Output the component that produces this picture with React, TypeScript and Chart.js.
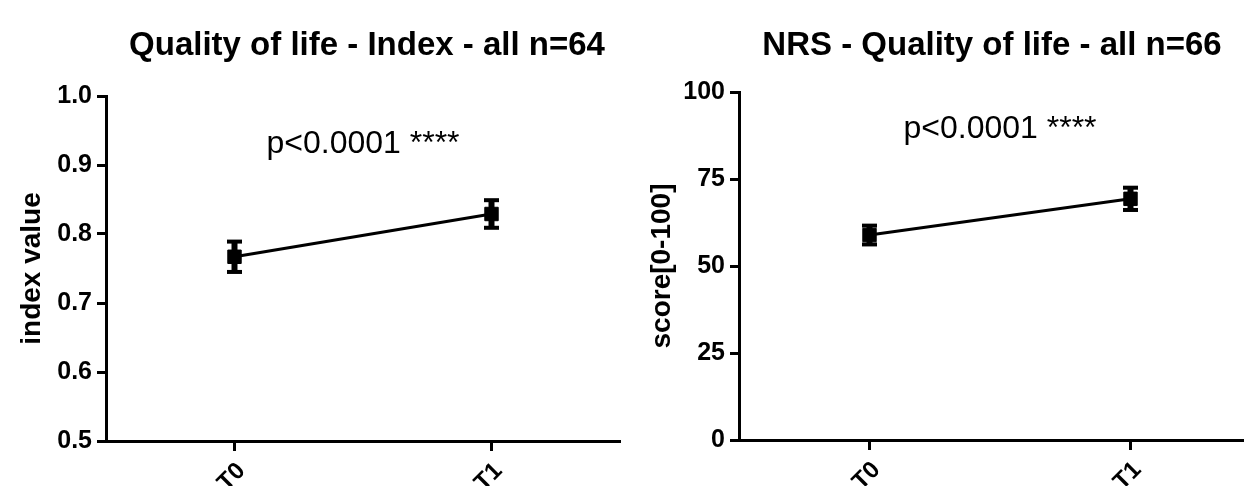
import React, { useEffect, useRef } from "react";
import { Chart, registerables } from "chart.js";

Chart.register(...registerables);

// ---- data ----
const categories = ["T0", "T1"];
const indexMeans = [0.767, 0.829];
const indexErrors = [0.022, 0.02];
const nrsMeans = [58.9, 69.3];
const nrsErrors = [2.7, 3.2];
const indexTicks = [0.5, 0.6, 0.7, 0.8, 0.9, 1.0];
const nrsTicks = [0, 25, 50, 75, 100];
const titles = ["Quality of life - Index - all n=64", "NRS - Quality of life - all n=66"];
const yTitles = ["index value", "score[0-100]"];
const pTexts = ["p<0.0001 ****", "p<0.0001 ****"];
const pValueY = [0.917, 86.8];

const FONT = "'Liberation Sans', Arial, Helvetica, sans-serif";

type PanelProps = {
  left: number;
  width: number;
  height: number;
  means: number[];
  errors: number[];
  ticks: number[];
  decimals: number;
  title: string;
  yTitle: string;
  pText: string;
  pY: number;
  padTop: number;
  padRight: number;
  yWidth: number;
  xHeight: number;
  yTitlePad: number;
  titleShift: number;
};

function makeTextPlugin(p: PanelProps) {
  return {
    id: "panelTexts",
    afterDraw(chart: any) {
      const { ctx, chartArea } = chart;
      const cx = (chartArea.left + chartArea.right) / 2;
      ctx.save();
      ctx.fillStyle = "#000";
      ctx.textAlign = "center";
      ctx.textBaseline = "alphabetic";
      ctx.font = `bold 33px ${FONT}`;
      ctx.fillText(p.title, cx + p.titleShift, 55);
      ctx.font = `32px ${FONT}`;
      ctx.fillText(p.pText, cx, chart.scales.y.getPixelForValue(p.pY));
      ctx.restore();
    },
  };
}

function makeErrorPlugin(p: PanelProps) {
  return {
    id: "errorBars",
    afterDatasetsDraw(chart: any) {
      const { ctx } = chart;
      const meta = chart.getDatasetMeta(0);
      const yScale = chart.scales.y;
      ctx.save();
      ctx.fillStyle = "#000";
      ctx.strokeStyle = "#000";
      meta.data.forEach((pt: any, i: number) => {
        const x = pt.x;
        const yHi = yScale.getPixelForValue(p.means[i] + p.errors[i]);
        const yLo = yScale.getPixelForValue(p.means[i] - p.errors[i]);
        ctx.lineWidth = 6;
        ctx.beginPath();
        ctx.moveTo(x, yHi);
        ctx.lineTo(x, yLo);
        ctx.stroke();
        const capW = 15;
        const capH = 4;
        ctx.fillRect(x - capW / 2, yHi - capH / 2, capW, capH);
        ctx.fillRect(x - capW / 2, yLo - capH / 2, capW, capH);
      });
      ctx.restore();
    },
  };
}

function Panel(p: PanelProps) {
  const ref = useRef<HTMLCanvasElement | null>(null);
  useEffect(() => {
    if (!ref.current) return;
    const chart = new Chart(ref.current, {
      type: "line",
      data: {
        labels: categories,
        datasets: [
          {
            data: p.means,
            borderColor: "#000",
            backgroundColor: "#000",
            borderWidth: 3,
            pointStyle: "rect",
            pointRadius: 9.5,
            pointBorderWidth: 1,
            pointBackgroundColor: "#000",
            pointBorderColor: "#000",
            tension: 0,
          },
        ],
      },
      options: {
        animation: false,
        responsive: false,
        maintainAspectRatio: false,
        events: [],
        layout: { padding: { top: p.padTop, right: p.padRight, bottom: 0, left: 0 } },
        plugins: {
          legend: { display: false },
          title: { display: false },
          tooltip: { enabled: false },
        },
        scales: {
          x: {
            type: "category",
            offset: true,
            grid: {
              display: true,
              drawOnChartArea: false,
              drawTicks: true,
              tickLength: 10,
              tickWidth: 3,
              tickColor: "#000",
              offset: false,
            },
            border: { display: true, color: "#000", width: 3 },
            ticks: {
              color: "#000",
              font: { family: FONT, size: 24, weight: "bold" },
              minRotation: 45,
              maxRotation: 45,
              padding: 6,
              labelOffset: 7,
              autoSkip: false,
            },
            afterFit(scale: any) {
              scale.height = p.xHeight;
            },
          },
          y: {
            type: "linear",
            min: p.ticks[0],
            max: p.ticks[p.ticks.length - 1],
            grid: {
              display: true,
              drawOnChartArea: false,
              drawTicks: true,
              tickLength: 9,
              tickWidth: 3,
              tickColor: "#000",
            },
            border: { display: true, color: "#000", width: 3 },
            ticks: {
              color: "#000",
              font: { family: FONT, size: 25, weight: "bold" },
              padding: 5,
              callback: (v: any) => Number(v).toFixed(p.decimals),
            },
            afterBuildTicks(scale: any) {
              scale.ticks = p.ticks.map((v) => ({ value: v }));
            },
            title: {
              display: true,
              text: p.yTitle,
              color: "#000",
              font: { family: FONT, size: 28, weight: "bold" },
              padding: { top: p.yTitlePad, bottom: 0 },
            },
            afterFit(scale: any) {
              scale.width = p.yWidth;
            },
          },
        },
      },
      plugins: [makeErrorPlugin(p), makeTextPlugin(p)],
    } as any);
    return () => chart.destroy();
  }, []);
  return (
    <canvas
      ref={ref}
      width={p.width}
      height={p.height}
      style={{ position: "absolute", left: p.left, top: 0, width: p.width, height: p.height }}
    />
  );
}

export default function App() {
  return (
    <div
      style={{
        position: "absolute",
        left: 0,
        top: 0,
        width: 1244,
        height: 486,
        overflow: "hidden",
        background: "#fff",
      }}
    >
      <Panel
        left={0}
        width={640}
        height={486}
        means={indexMeans}
        errors={indexErrors}
        ticks={indexTicks}
        decimals={1}
        title={titles[0]}
        yTitle={yTitles[0]}
        pText={pTexts[0]}
        pY={pValueY[0]}
        padTop={96}
        padRight={20}
        yWidth={106}
        xHeight={45}
        yTitlePad={15}
        titleShift={4}
      />
      <Panel
        left={640}
        width={640}
        height={486}
        means={nrsMeans}
        errors={nrsErrors}
        ticks={nrsTicks}
        decimals={0}
        title={titles[1]}
        yTitle={yTitles[1]}
        pText={pTexts[1]}
        pY={pValueY[1]}
        padTop={92}
        padRight={19}
        yWidth={99}
        xHeight={46}
        yTitlePad={5}
        titleShift={-8}
      />
    </div>
  );
}
